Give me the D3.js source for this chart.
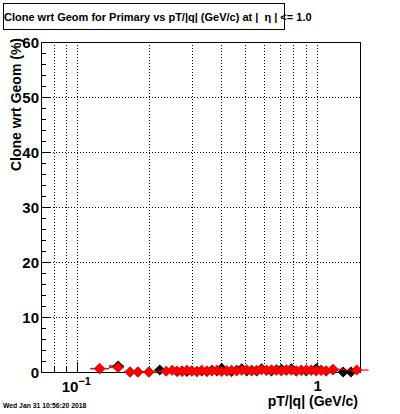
<!DOCTYPE html>
<html><head><meta charset="utf-8">
<script src="https://cdn.jsdelivr.net/npm/d3@7"></script>
<style>body{margin:0;background:#fff;} svg{display:block;} text{font-family:"Liberation Sans",Arial,sans-serif;font-weight:bold;white-space:pre;}</style>
</head><body>
<svg id="c" width="400" height="414"></svg>
<script>
// ---- data ----
const titleText = "Clone wrt Geom for Primary vs pT/|q| (GeV/c) at |  η | <= 1.0";
const yTitle = "Clone wrt Geom (%)";
const xTitle = "pT/|q| (GeV/c)";
const dateText = "Wed Jan 31 10:56:20 2018";
const yTicks = [0, 10, 20, 30, 40, 50, 60];
const xGrid = [0.08, 0.09, 0.1, 0.2, 0.3, 0.4, 0.5, 0.6, 0.7, 0.8, 0.9, 1];
const xMinor = [0.08, 0.09, 0.2, 0.3, 0.4, 0.5, 0.6, 0.7, 0.8, 0.9];
const xMajor = [0.1, 1];

const pTBlack = [0.124, 0.148, 0.166, 0.179, 0.199, 0.221,
  0.261, 0.274, 0.287, 0.301, 0.316, 0.331, 0.348, 0.365, 0.383, 0.401, 0.421, 0.441, 0.463, 0.486, 0.51,
  0.535, 0.561, 0.588, 0.617, 0.647, 0.679, 0.712, 0.747, 0.784, 0.822, 0.862, 0.905, 0.949, 0.995, 1.044, 1.095,
  1.17, 1.29, 1.39];
const valBlack = [0.6, 1.1, 0, 0, 0, 0.35,
  0.1, 0.2, 0.1, 0.2, 0.1, 0.2, 0.1, 0.3, 0.2, 0.7, 0.2, 0.1, 0.3, 0.6, 0.2,
  0.3, 0.2, 0.6, 0.3, 0.2, 0.4, 0.5, 0.3, 0.6, 0.2, 0.3, 0.2, 0.3, 0.6, 0.3, 0.2,
  0.4, 0, 0];
const pTRed = [0.124, 0.148, 0.166, 0.179, 0.199, 0.235, 0.249,
  0.261, 0.274, 0.287, 0.301, 0.316, 0.331, 0.348, 0.365, 0.383, 0.401, 0.421, 0.441, 0.463, 0.486, 0.51,
  0.535, 0.561, 0.588, 0.617, 0.647, 0.679, 0.712, 0.747, 0.784, 0.822, 0.862, 0.905, 0.949, 0.995, 1.044, 1.095,
  1.17, 1.47];
const valRed = [0.65, 0.8, 0, 0, 0, 0.15, 0.3,
  0.2, 0.1, 0.3, 0.2, 0.1, 0.3, 0.2, 0.2, 0.3, 0.1, 0.2, 0.3, 0.2, 0.3, 0.4,
  0.2, 0.3, 0.4, 0.3, 0.4, 0.3, 0.2, 0.4, 0.3, 0.2, 0.3, 0.4, 0.3, 0.2, 0.3, 0.2,
  0.5, 0.35];

// ---- layout ----
const svg = d3.select("#c");
const L = 41, R = 360, T = 42, B = 372;
const x = d3.scaleLog().domain([0.0705, 1.517]).range([L, R]);
const y = d3.scaleLinear().domain([0, 60]).range([B, T]);

// title box
svg.append("rect").attr("x", 3.5).attr("y", 3.5).attr("width", 281).attr("height", 26)
  .attr("fill", "#fff").attr("stroke", "#000").attr("stroke-width", 1);
svg.append("text").attr("x", 4).attr("y", 20.5).attr("font-size", 11).text(titleText);

// grid
const g = svg.append("g");
g.selectAll(".vg").data(xGrid).join("line")
  .attr("x1", d => Math.round(x(d)) + 0.5).attr("x2", d => Math.round(x(d)) + 0.5)
  .attr("y1", T).attr("y2", B).attr("stroke", "#000").attr("stroke-dasharray", "1,2");
g.selectAll(".hg").data(yTicks.filter(d => d > 0 && d < 60)).join("line")
  .attr("x1", L).attr("x2", R).attr("y1", d => Math.round(y(d)) + 0.5).attr("y2", d => Math.round(y(d)) + 0.5)
  .attr("stroke", "#000").attr("stroke-dasharray", "1,2");

// frame
svg.append("rect").attr("x", L + 0.5).attr("y", T + 0.5).attr("width", R - L).attr("height", B - T)
  .attr("fill", "none").attr("stroke", "#000");

// y ticks
const yMinor = d3.range(0, 61, 2);
svg.selectAll(".ymt").data(yMinor).join("line")
  .attr("x1", L).attr("x2", d => L + (d % 10 === 0 ? 9 : 5))
  .attr("y1", d => Math.round(y(d)) + 0.5).attr("y2", d => Math.round(y(d)) + 0.5).attr("stroke", "#000");
svg.selectAll(".yl").data(yTicks).join("text")
  .attr("x", 39).attr("y", d => y(d) + 5.5).attr("text-anchor", "end").attr("font-size", 15).text(d => d);

// x ticks
svg.selectAll(".xmt").data(xMinor).join("line")
  .attr("x1", d => Math.round(x(d)) + 0.5).attr("x2", d => Math.round(x(d)) + 0.5)
  .attr("y1", B).attr("y2", B - 5).attr("stroke", "#000");
svg.selectAll(".xMt").data(xMajor).join("line")
  .attr("x1", d => Math.round(x(d)) + 0.5).attr("x2", d => Math.round(x(d)) + 0.5)
  .attr("y1", B).attr("y2", B - 10).attr("stroke", "#000");
const t1 = svg.append("text").attr("x", x(0.1) - 1).attr("y", 392).attr("text-anchor", "middle").attr("font-size", 15);
t1.append("tspan").text("10");
t1.append("tspan").attr("dy", -7).attr("font-size", 11).text("\u22121");
svg.append("text").attr("x", x(1) + 1).attr("y", 391).attr("text-anchor", "middle").attr("font-size", 15).text("1");

// axis titles
svg.append("text").attr("x", 358).attr("y", 406).attr("text-anchor", "end").attr("font-size", 14).text(xTitle);
svg.append("text").attr("transform", "translate(21,38) rotate(-90)").attr("text-anchor", "end")
  .attr("font-size", 14).text(yTitle);
svg.append("text").attr("x", 3).attr("y", 407.5).attr("font-size", 6.8).text(dateText);

// series
function drawSeries(pts, vals, color) {
  const data = pts.map((p, i) => ({p, v: vals[i],
    lo: i > 0 ? Math.sqrt(pts[i - 1] * p) : p * p / Math.sqrt(p * pts[i + 1]),
    hi: i < pts.length - 1 ? Math.sqrt(pts[i + 1] * p) : p * p / Math.sqrt(p * pts[i - 1])}));
  const gs = svg.append("g");
  gs.selectAll("line").data(data).join("line")
    .attr("x1", d => x(d.lo)).attr("x2", d => x(d.hi))
    .attr("y1", d => y(d.v)).attr("y2", d => y(d.v)).attr("stroke", color).attr("stroke-width", 1.2);
  gs.selectAll("path").data(data).join("path")
    .attr("d", d => { const cx = x(d.p), cy = y(d.v); return `M${cx - 5.5},${cy}L${cx},${cy - 5.5}L${cx + 5.5},${cy}L${cx},${cy + 5.5}Z`; })
    .attr("fill", color);
}
drawSeries(pTBlack, valBlack, "#000");
drawSeries(pTRed, valRed, "#ff0000");
</script>
</body></html>
